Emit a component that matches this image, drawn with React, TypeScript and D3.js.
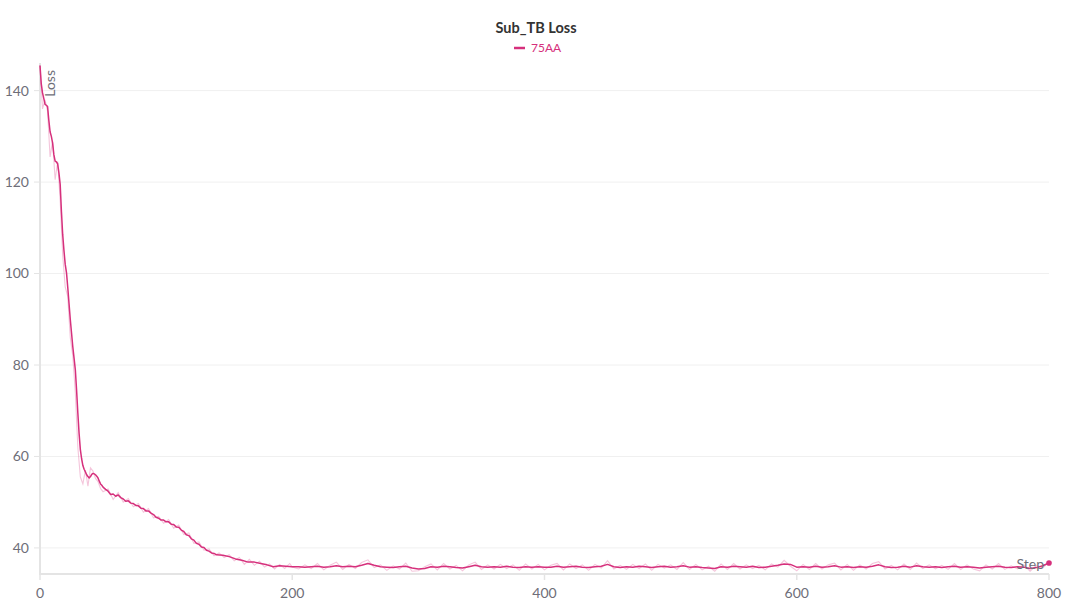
import React from 'react';
import * as d3 from 'd3';

// smoothed loss
const smoothSteps = [
  0, 1, 2, 3, 4, 5, 6, 7, 8, 9, 10, 11, 12, 13, 14, 15, 16, 17, 18, 19, 20, 21, 22, 23, 24, 25, 26, 27, 28, 29, 30,
  31, 32, 33, 34, 35, 36, 37, 38, 39, 40, 41, 42, 43, 44, 45, 46, 47, 48, 49, 50,
  52, 54, 56, 58, 60, 62, 64, 66, 68, 70, 72, 74, 76, 78, 80, 82, 84, 86, 88, 90, 92, 94, 96, 98, 100,
  102, 104, 106, 108, 110, 112, 114, 116, 118, 120, 122, 124, 126, 128, 130, 132, 134, 136, 138, 140,
  145, 150, 155, 160, 165, 170, 175, 180, 185, 190, 195, 200,
  205, 210, 215, 220, 225, 230, 235, 240, 245, 250, 255, 260, 265, 270, 275, 280, 285, 290, 295, 300,
  305, 310, 315, 320, 325, 330, 335, 340, 345, 350, 355, 360, 365, 370, 375, 380, 385, 390, 395, 400,
  405, 410, 415, 420, 425, 430, 435, 440, 445, 450, 455, 460, 465, 470, 475, 480, 485, 490, 495, 500,
  505, 510, 515, 520, 525, 530, 535, 540, 545, 550, 555, 560, 565, 570, 575, 580, 585, 590, 595, 600,
  605, 610, 615, 620, 625, 630, 635, 640, 645, 650, 655, 660, 665, 670, 675, 680, 685, 690, 695, 700,
  705, 710, 715, 720, 725, 730, 735, 740, 745, 750, 755, 760, 765, 770, 775, 780, 785, 790, 795, 800,
];
const smoothLoss = [
  145.5, 141.5, 139.5, 138.3, 137.0, 136.8, 136.5, 133.5, 131.0, 130.0, 128.5, 126.0, 124.6, 124.4, 124.0, 122.0,
  119.5, 113.5, 108.5, 105.0, 102.0, 100.2, 97.0, 93.5, 90.0, 87.0, 84.0, 81.5, 79.0, 74.5, 69.5,
  65.0, 61.5, 59.5, 58.0, 57.2, 56.6, 56.0, 55.6, 55.3, 55.6, 56.1, 56.3, 56.2, 56.0, 55.7, 55.3, 54.6, 54.0, 53.7, 53.3,
  52.8, 52.4, 51.7, 51.8, 51.3, 51.6, 51.0, 50.7, 50.2, 50.3, 49.8, 49.7, 49.3, 49.2, 48.7, 48.6, 48.1, 48.1, 47.6, 47.3,
  46.7, 46.5, 46.1, 46.1, 45.7,
  45.7, 45.2, 45.1, 44.6, 44.5, 43.9, 43.6, 42.9, 42.7, 42.0, 41.7, 41.0, 40.8, 40.2, 40.1, 39.5, 39.3, 38.9, 38.8, 38.5,
  38.4, 38.1, 37.6, 37.3, 36.9, 36.9, 36.6, 36.3, 35.9, 36.1, 36.0, 35.9,
  35.9, 35.8, 35.9, 36.0, 35.8, 35.9, 36.1, 35.9, 36.0, 35.9, 36.2, 36.6, 36.2, 35.9, 35.8, 35.7, 35.9, 36.0, 35.6, 35.4,
  35.5, 35.9, 35.8, 36.0, 35.9, 35.7, 35.6, 35.9, 36.2, 35.9, 35.8, 35.9, 35.8, 36.0, 35.8, 35.7, 35.9, 35.8, 35.9, 35.8,
  35.8, 36.0, 35.8, 35.9, 36.0, 35.8, 35.7, 35.9, 36.0, 36.4, 35.9, 35.7, 35.9, 35.8, 36.0, 35.9, 35.7, 35.9, 36.0, 35.8,
  35.9, 36.1, 35.8, 35.9, 35.7, 35.6, 35.5, 35.9, 35.8, 36.0, 35.9, 35.8, 36.0, 35.7, 35.8, 36.0, 36.2, 36.5, 36.4, 35.8,
  35.9, 35.8, 36.0, 35.8, 35.9, 36.1, 35.8, 35.9, 35.7, 35.9, 35.8, 36.0, 36.3, 35.9, 35.7, 35.8, 36.0, 35.8, 36.1, 35.9,
  35.8, 35.9, 35.7, 35.9, 36.0, 35.8, 35.9, 35.8, 35.6, 35.8, 35.9, 36.0, 35.8, 35.7, 35.9, 35.8, 35.5, 35.7, 36.1, 36.7,
];

// raw (unsmoothed) loss, the faint line
const rawSteps = [
  0, 2, 4, 6, 8, 10, 12, 14, 16, 18, 20, 22, 24, 26, 28, 30, 32, 34, 36, 38, 40, 42, 44, 46, 48, 50,
  54, 58, 62, 66, 70, 74, 78, 82, 86, 90, 94, 98, 102, 106, 110, 114, 118, 122, 126, 130, 134, 138, 142, 146,
  150, 154, 158, 162, 166, 170, 174, 178, 182, 186, 190, 194, 198, 200,
  205, 210, 215, 220, 225, 230, 235, 240, 245, 250, 255, 260, 265, 270, 275, 280, 285, 290, 295, 300,
  305, 310, 315, 320, 325, 330, 335, 340, 345, 350, 355, 360, 365, 370, 375, 380, 385, 390, 395, 400,
  405, 410, 415, 420, 425, 430, 435, 440, 445, 450, 455, 460, 465, 470, 475, 480, 485, 490, 495, 500,
  505, 510, 515, 520, 525, 530, 535, 540, 545, 550, 555, 560, 565, 570, 575, 580, 585, 590, 595, 600,
  605, 610, 615, 620, 625, 630, 635, 640, 645, 650, 655, 660, 665, 670, 675, 680, 685, 690, 695, 700,
  705, 710, 715, 720, 725, 730, 735, 740, 745, 750, 755, 760, 765, 770, 775, 780, 785, 790, 795, 800,
];
const rawLoss = [
  145.5, 136.0, 138.0, 135.5, 125.5, 129.0, 120.5, 124.5, 116.0, 104.0, 97.0, 95.0, 86.0, 82.0, 74.0, 62.0,
  55.5, 54.0, 57.0, 53.5, 57.5, 56.8, 55.2, 54.5, 53.0, 52.3,
  52.9, 50.6, 52.1, 50.0, 50.8, 49.0, 49.7, 47.8, 48.6, 46.6, 46.9, 45.4, 46.2, 44.3, 45.0, 42.9, 43.3, 41.0, 41.3,
  39.5, 39.8, 38.3, 38.9, 37.9, 38.5, 37.2, 37.9, 36.4, 37.5, 36.2, 37.1, 35.8, 36.5, 35.4, 36.4, 35.5, 36.6, 35.8,
  35.4, 36.3, 35.5, 36.6, 35.2, 36.2, 36.9, 35.3, 36.4, 35.5, 36.8, 37.4, 35.7, 36.3, 35.1, 36.1, 35.4, 36.7, 34.9, 35.0,
  35.9, 36.5, 35.2, 36.6, 35.4, 36.2, 35.0, 36.3, 36.9, 35.3, 36.3, 35.4, 36.4, 35.5, 36.3, 35.1, 36.5, 35.4, 36.4, 35.2,
  36.2, 36.6, 35.2, 36.5, 35.5, 36.3, 35.1, 36.4, 35.6, 37.2, 35.4, 36.2, 35.3, 36.4, 35.5, 36.5, 35.1, 36.4, 35.6, 36.3,
  35.3, 36.8, 35.3, 36.4, 35.2, 36.0, 34.9, 36.5, 35.3, 36.6, 35.4, 36.3, 35.5, 36.2, 35.2, 36.5, 35.8, 37.3, 36.0, 35.0,
  36.4, 35.3, 36.6, 35.4, 36.3, 36.7, 35.2, 36.4, 35.1, 36.3, 35.4, 36.6, 37.0, 35.4, 36.2, 35.2, 36.5, 35.3, 36.7, 35.5,
  36.3, 35.4, 36.2, 35.3, 36.6, 35.3, 36.3, 35.4, 35.0, 36.3, 35.4, 36.6, 35.3, 36.1, 35.4, 36.3, 34.9, 36.2, 35.6, 37.0,
];

const xTicks = [0, 200, 400, 600, 800];
const yTicks = [40, 60, 80, 100, 120, 140];
const runName = '75AA';

const W = 1086;
const H = 613;
const LINE = '#d6307c';
const FONT = 'Lato, "Open Sans", sans-serif';

export default function App() {
  const x = d3.scaleLinear().domain([0, 800]).range([40, 1049]);
  const y = d3.scaleLinear().domain([34.3, 145.6]).range([574, 65]);

  const smooth = smoothSteps.map((s, i) => [s, smoothLoss[i]] as [number, number]);
  const raw = rawSteps.map((s, i) => [s, rawLoss[i]] as [number, number]);
  const line = d3
    .line<[number, number]>()
    .x(d => x(d[0]))
    .y(d => y(d[1]));
  const last = smooth[smooth.length - 1];

  return (
    <svg
      width={W}
      height={H}
      style={{ position: 'absolute', left: 0, top: 0, background: '#fff', fontFamily: FONT }}
    >
      <text x={536} y={33} textAnchor="middle" fontSize={14.5} fontWeight={700} fill="#333">
        Sub_TB Loss
      </text>
      <line x1={514} x2={525} y1={48} y2={48} stroke={LINE} strokeWidth={2.5} />
      <text x={531} y={52} fontSize={12} fill={LINE}>
        {runName}
      </text>

      {/* grid + y ticks */}
      {yTicks.map(t => (
        <g key={t}>
          <line x1={40} x2={1049} y1={y(t)} y2={y(t)} stroke="#f0f0f0" strokeWidth={1} />
          <line x1={34} x2={40} y1={y(t)} y2={y(t)} stroke="#e4e4e4" strokeWidth={1} />
          <text x={29} y={y(t)} dy="0.35em" textAnchor="end" fontSize={14} fill="#6e6e78">
            {t}
          </text>
        </g>
      ))}
      {xTicks.map(t => (
        <g key={t}>
          <line x1={x(t)} x2={x(t)} y1={574} y2={580} stroke="#e4e4e4" strokeWidth={1.5} />
          <text x={x(t)} y={598} textAnchor="middle" fontSize={14} fill="#6e6e78">
            {t}
          </text>
        </g>
      ))}
      <line x1={40} x2={40} y1={63} y2={575} stroke="#e4e4e4" strokeWidth={2} />
      <line x1={39} x2={1049} y1={574} y2={574} stroke="#e4e4e4" strokeWidth={2} />

      <path d={line(raw) ?? ''} fill="none" stroke={LINE} strokeOpacity={0.28} strokeWidth={1.1} />
      <path d={line(smooth) ?? ''} fill="none" stroke={LINE} strokeWidth={1.5} strokeLinejoin="round" />
      <circle cx={x(last[0])} cy={y(last[1])} r={2.8} fill={LINE} />

      <text transform="translate(55,70) rotate(-90)" textAnchor="end" fontSize={14} fill="#6e6e78">
        Loss
      </text>
      <text x={1044} y={569} textAnchor="end" fontSize={14} fill="#6e6e78">
        Step
      </text>
    </svg>
  );
}
